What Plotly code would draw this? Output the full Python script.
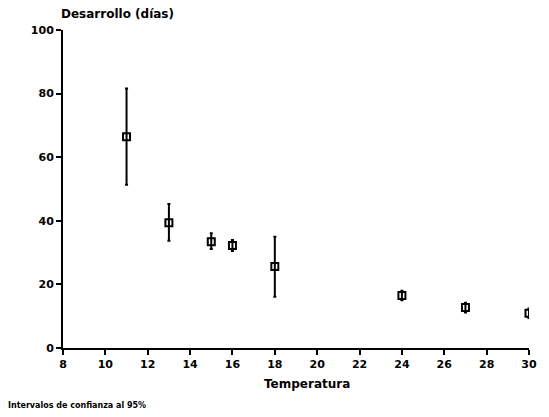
import plotly.graph_objects as go

temperatura = [11, 13, 15, 16, 18, 24, 27, 30]
desarrollo = [66.4, 39.4, 33.4, 32.2, 25.6, 16.5, 12.7, 10.9]
upper = [81.6, 45.3, 36.1, 34.0, 35.0, 18.0, 14.2, 12.4]
lower = [51.3, 33.7, 31.1, 30.5, 16.1, 15.0, 11.2, 9.4]

x_ticks = [8, 10, 12, 14, 16, 18, 20, 22, 24, 26, 28, 30]
y_ticks = [0, 20, 40, 60, 80, 100]

err_plus = [u - m for u, m in zip(upper, desarrollo)]
err_minus = [m - l for m, l in zip(desarrollo, lower)]

FONT = "DejaVu Sans, Arial, sans-serif"

fig = go.Figure()
fig.add_trace(go.Scatter(
    x=temperatura, y=desarrollo, mode="markers",
    marker=dict(symbol="square-open", size=7, color="black", line=dict(width=2, color="black")),
    error_y=dict(type="data", symmetric=False, array=err_plus, arrayminus=err_minus,
                 color="black", thickness=2, width=1.5),
    showlegend=False,
))

fig.update_layout(
    width=541, height=409,
    margin=dict(l=55, r=17, t=22, b=69),
    plot_bgcolor="white", paper_bgcolor="white",
    font=dict(family=FONT, size=10, color="black"),
    xaxis=dict(range=[8, 30], tickvals=x_ticks, ticktext=[str(v) for v in x_ticks],
               showgrid=False, zeroline=False, showline=True, linecolor="black", linewidth=2,
               ticks="outside", ticklen=5, tickwidth=2, tickcolor="black",
               tickfont=dict(family=FONT, size=11, color="black", weight="bold")),
    yaxis=dict(range=[0, 100], tickvals=y_ticks, ticktext=[str(v) for v in y_ticks],
               showgrid=False, zeroline=False, showline=True, linecolor="black", linewidth=2,
               ticks="outside", ticklen=5, tickwidth=2, tickcolor="black",
               tickfont=dict(family=FONT, size=11, color="black", weight="bold")),
    annotations=[
        dict(text="<b>Desarrollo (días)</b>", x=0, y=1, xref="paper", yref="paper",
             xanchor="left", yanchor="middle", xshift=-4, yshift=16, showarrow=False,
             font=dict(family=FONT, size=12, color="black")),
        dict(text="<b>Temperatura</b>", x=19.5, y=0, xref="x", yref="paper",
             xanchor="center", yanchor="middle", yshift=-36, showarrow=False,
             font=dict(family=FONT, size=12, color="black")),
        dict(text="<b>Intervalos de confianza al 95%</b>", x=0, y=0, xref="paper", yref="paper",
             xanchor="left", yanchor="middle", xshift=-57, yshift=-57, showarrow=False,
             font=dict(family=FONT, size=8, color="black")),
    ],
)

fig.write_html("out.html")
